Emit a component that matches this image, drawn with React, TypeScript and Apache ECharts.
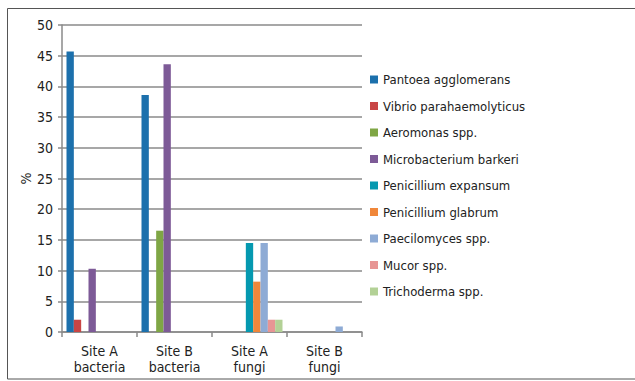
import React, { useEffect, useRef } from "react";
import * as echarts from "echarts";

const categories = ["Site A\nbacteria", "Site B\nbacteria", "Site A\nfungi", "Site B\nfungi"];

const seriesNames = [
  "Pantoea agglomerans",
  "Vibrio parahaemolyticus",
  "Aeromonas spp.",
  "Microbacterium barkeri",
  "Penicillium expansum",
  "Penicillium glabrum",
  "Paecilomyces spp.",
  "Mucor spp.",
  "Trichoderma spp.",
];

const pantoea = [45.7, 38.6, 0, 0];
const vibrio = [2.0, 0, 0, 0];
const aeromonas = [0, 16.5, 0, 0];
const microbacterium = [10.3, 43.6, 0, 0];
const penExpansum = [0, 0, 14.5, 0];
const penGlabrum = [0, 0, 8.2, 0];
const paecilomyces = [0, 0, 14.5, 0.9];
const mucor = [0, 0, 2.0, 0];
const trichoderma = [0, 0, 2.0, 0];

const seriesValues = [
  pantoea,
  vibrio,
  aeromonas,
  microbacterium,
  penExpansum,
  penGlabrum,
  paecilomyces,
  mucor,
  trichoderma,
];

const colors = [
  "#1c70ac",
  "#c94545",
  "#7fa645",
  "#7d5a97",
  "#0599b0",
  "#f0873a",
  "#8eabd5",
  "#e79594",
  "#b3d196",
];

const FONT = "'DejaVu Sans Condensed', 'Noto Sans', sans-serif";

export default function App() {
  const ref = useRef<HTMLDivElement>(null);

  useEffect(() => {
    if (!ref.current) return;
    const chart = echarts.init(ref.current, undefined, { renderer: "svg" });
    chart.setOption({
      animation: false,
      backgroundColor: "#ffffff",
      color: colors,
      textStyle: { fontFamily: FONT },
      grid: { left: 62, right: 273, top: 25, bottom: 49 },
      legend: {
        orient: "vertical",
        left: 365,
        top: 68,
        itemWidth: 8,
        itemHeight: 8,
        itemGap: 13.5,
        icon: "rect",
        textStyle: { fontSize: 13, color: "#222", fontFamily: FONT },
        data: seriesNames,
      },
      xAxis: {
        type: "category",
        data: categories,
        axisLine: { lineStyle: { color: "#8a8a8a", width: 1.5 } },
        axisTick: { show: true, length: 5, lineStyle: { color: "#8a8a8a", width: 1.5 } },
        axisLabel: { fontSize: 14, color: "#222", lineHeight: 16, margin: 11, fontFamily: FONT },
      },
      yAxis: {
        type: "value",
        name: "%",
        nameLocation: "middle",
        nameGap: 29,
        nameRotate: 90,
        nameTextStyle: { fontSize: 14, color: "#222", fontFamily: FONT },
        min: 0,
        max: 50,
        interval: 5,
        axisLine: { show: true, lineStyle: { color: "#8a8a8a", width: 1.5 } },
        axisTick: { show: true, length: 4, lineStyle: { color: "#8a8a8a", width: 1.5 } },
        axisLabel: { fontSize: 14, color: "#222", margin: 9, fontFamily: FONT },
        splitLine: { lineStyle: { color: "#8a8a8a", width: 1.5 } },
      },
      series: seriesNames.map((name, i) => ({
        name,
        type: "bar",
        data: seriesValues[i],
        barGap: "0%",
        barCategoryGap: "12%",
        itemStyle: { color: colors[i] },
      })),
      graphic: [
        {
          type: "rect",
          shape: { x: 7.5, y: 8.5, width: 640, height: 370.5 },
          style: { fill: "none", stroke: "#555", lineWidth: 1 },
          silent: true,
        },
      ],
    });
    return () => chart.dispose();
  }, []);

  return (
    <div
      ref={ref}
      style={{ position: "fixed", left: 0, top: 0, width: 635, height: 381 }}
    />
  );
}
